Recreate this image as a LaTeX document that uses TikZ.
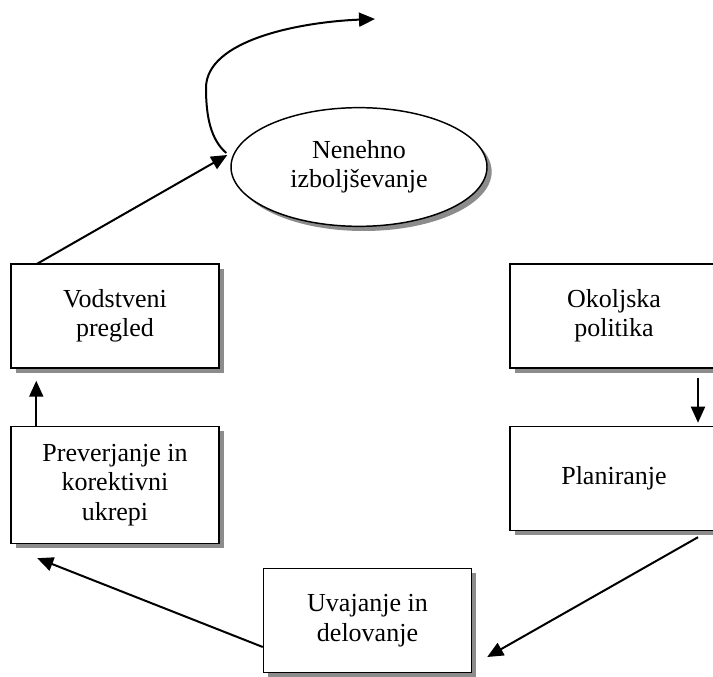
\documentclass[tikz,border=0pt]{standalone}
\usepackage{fontspec}
\setmainfont{Liberation Serif}
\usetikzlibrary{arrows.meta,positioning,shapes.geometric,shadows}

\begin{document}
\begin{tikzpicture}[
    x=0.75pt, y=-0.75pt,
    node distance=42.75pt,
    font=\fontsize{19.5pt}{22pt}\selectfont,
    pdcastep/.style={draw, line width=1.1pt, fill=white, align=center, inner sep=0pt,
        minimum width=156pt, minimum height=78pt,
        drop shadow={shadow xshift=3.5pt, shadow yshift=-3.5pt, fill=black!45, opacity=1}},
    pdcaloop/.style={pdcastep, ellipse, minimum width=192pt, minimum height=89pt},
    arrow/.style={-{Triangle[length=12pt,width=10.5pt]}, line width=1.5pt}
]
\useasboundingbox (0,0) rectangle (713,677);
\clip (0,0) rectangle (713,677);
\node[pdcaloop] (nenehno) at (359,167) {Nenehno\\ izboljševanje};
\node[pdcastep] (vodst) at (115,316) {Vodstveni\\ pregled};
\node[pdcastep, below=of vodst, minimum height=87.75pt] (prev) {Preverjanje in\\ korektivni\\ ukrepi};
\node[pdcastep] (okolj) at (614,316) {Okoljska\\ politika};
\node[pdcastep, below=of okolj] (plan) {Planiranje};
\node[pdcastep] (uvaj) at (367.5,620.5) {Uvajanje in\\ delovanje};
\coordinate (bocno) at (206,88);
\coordinate (naprej) at (375,19);
\draw[arrow] ([shift={(84,9)}]okolj.south) -- ([shift={(84,-3)}]plan.north);
\draw[arrow] ([shift={(84,6)}]plan.south) -- ([shift={(15,36.5)}]uvaj.east);
\draw[arrow] ([shift={(0,26.5)}]uvaj.west) -- ([shift={(27,14)}]prev.south west);
\draw[arrow] ([shift={(26,0)}]prev.north west) -- ([shift={(26,12)}]vodst.south west);
\draw[arrow] ([shift={(26,1)}]vodst.north west) -- ([shift={(-3,-12)}]nenehno.west);
\draw[arrow] ([shift={(-4,-14)}]nenehno.west) .. controls +(-15,-13) and +(0,30) .. (bocno)
    .. controls +(0,-48) and +(-75,3) .. (naprej);
\end{tikzpicture}
\end{document}
